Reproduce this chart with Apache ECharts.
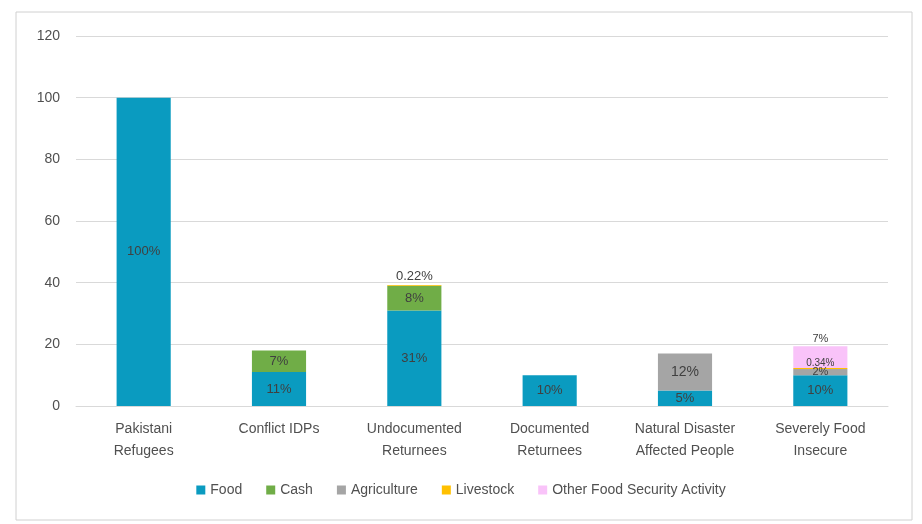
<!DOCTYPE html>
<html><head><meta charset="utf-8">
<script src="https://cdn.jsdelivr.net/npm/echarts@6/dist/echarts.min.js"></script>
<style>html,body{margin:0;padding:0;background:#fff}#c{width:922px;height:524px}</style>
</head><body><div id="c"></div>
<script>
const categories = ['Pakistani\nRefugees','Conflict IDPs','Undocumented\nReturnees','Documented\nReturnees','Natural Disaster\nAffected People','Severely Food\nInsecure'];
const food = [100, 11, 31, 10, 5, 10];
const cash = [null, 7, 8, null, null, null];
const agriculture = [null, null, null, null, 12, 2];
const livestock = [null, null, 0.22, null, null, 0.34];
const otherFood = [null, null, null, null, null, 7];
const yTicks = [0, 20, 40, 60, 80, 100, 120];

const fmt = p => (p.value == null ? '' : p.value + '%');
const lab = {show:true, position:'inside', formatter: fmt, color:'#404040', fontSize:13, fontFamily:'Liberation Sans, Arial'};
function mk(name, data, color, labelOpt){
  return {name, type:'bar', stack:'s', data, barWidth:'40%', itemStyle:{color},
    label: Object.assign({}, lab, labelOpt||{}), emphasis:{disabled:true}};
}
const small = (arr, idx, extra) => arr.map((v,i)=> i===idx && v!=null ? {value:v, label:extra} : v);
const chart = echarts.init(document.getElementById('c'), null, {renderer:'canvas'});
chart.setOption({
  animation:false,
  grid:{left:76, right:34, top:36, bottom:118},
  xAxis:{type:'category', data:categories,
    axisLine:{lineStyle:{color:'#d9d9d9'}}, axisTick:{show:false},
    axisLabel:{color:'#505050', fontSize:14, lineHeight:22, margin:12, interval:0, fontFamily:'Liberation Sans, Arial'}},
  yAxis:{type:'value', min:0, max:120, interval:20,
    axisLabel:{color:'#505050', fontSize:14, margin:16, fontFamily:'Liberation Sans, Arial',
      formatter: v => yTicks.includes(v) ? String(v) : ''},
    splitLine:{lineStyle:{color:'#d9d9d9'}}, axisLine:{show:false}, axisTick:{show:false}},
  legend:{bottom:22, left:'center', itemWidth:9, itemHeight:9, itemGap:24, icon:'rect',
    textStyle:{color:'#505050', fontSize:14, fontFamily:'Liberation Sans, Arial'}},
  series:[
    mk('Food', food, '#0A9BC0'),
    mk('Cash', cash, '#70AD47'),
    mk('Agriculture', small(agriculture, 5, {fontSize:11}), '#A5A5A5', {fontSize:14}),
    mk('Livestock', small(livestock, 5, {fontSize:10, distance:0}), '#FFC000', {position:'top', distance:2, fontSize:13}),
    mk('Other Food Security Activity', otherFood, '#F9C3F9', {position:'top', distance:2, fontSize:11})
  ],
  graphic:[
    {type:'rect', shape:{x:16, y:12, width:896, height:508}, style:{fill:'none', stroke:'#d0d0d0', lineWidth:1}, silent:true}
  ]
});
</script></body></html>
